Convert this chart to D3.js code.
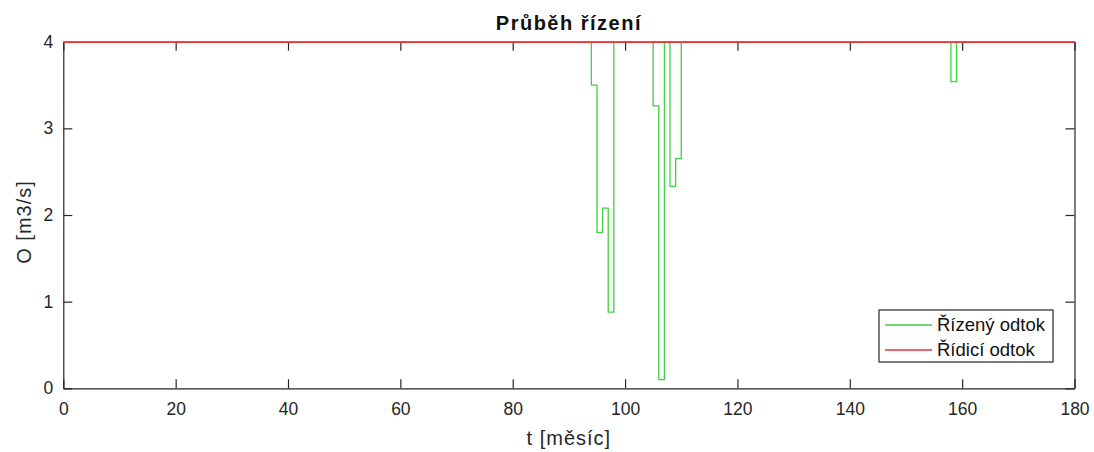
<!DOCTYPE html>
<html lang="cs">
<head>
<meta charset="UTF-8">
<title>Průběh řízení</title>
<script src="https://d3js.org/d3.v7.min.js"></script>
<style>
  html, body { margin: 0; padding: 0; background: #fff; }
  text { font-family: "Liberation Sans", Arial, sans-serif; }
</style>
</head>
<body>
<div id="chart"></div>
<script>
// data (stairs: value holds from month until next month)
const controlledMonths = [0, 94, 95, 96, 97, 98, 105, 106, 107, 108, 109, 110, 158, 159, 180];
const controlledValues = [4, 3.5, 1.8, 2.08, 0.88, 4, 3.26, 0.1, 4, 2.33, 2.65, 4, 3.54, 4, 4];
const controlMonths = [0, 180];
const controlValues = [4, 4];
const xTicks = [0, 20, 40, 60, 80, 100, 120, 140, 160, 180];
const yTicks = [0, 1, 2, 3, 4];
const seriesNames = ["Řízený odtok", "Řídicí odtok"];

const W = 1094, H = 452;
const margin = { top: 41.7, right: 19.5, bottom: 63.7, left: 63.3 };
const width = W - margin.left - margin.right,
      height = H - margin.top - margin.bottom;
const axisColor = "#262626";
const green = "#3fd13f", red = "#e8343e";

const svg = d3.select("#chart").append("svg")
    .attr("width", W).attr("height", H);

const g = svg.append("g")
    .attr("transform", `translate(${margin.left},${margin.top})`);

const x = d3.scaleLinear().domain([0, 180]).range([0, width]);
const y = d3.scaleLinear().domain([0, 4]).range([height, 0]);

// axes (ticks inward, mirrored on top/right)
const tickLen = 9;
const xAxisBottom = g.append("g").attr("transform", `translate(0,${height})`)
    .call(d3.axisBottom(x).tickValues(xTicks).tickSizeInner(-tickLen).tickSizeOuter(0).tickPadding(14));
const yAxisLeft = g.append("g")
    .call(d3.axisLeft(y).tickValues(yTicks).tickFormat(d3.format("d")).tickSizeInner(-tickLen).tickSizeOuter(0).tickPadding(10));
const xAxisTop = g.append("g")
    .call(d3.axisTop(x).tickValues(xTicks).tickSizeInner(-tickLen).tickSizeOuter(0).tickFormat(""));
const yAxisRight = g.append("g").attr("transform", `translate(${width},0)`)
    .call(d3.axisRight(y).tickValues(yTicks).tickSizeInner(-tickLen).tickSizeOuter(0).tickFormat(""));

[xAxisBottom, yAxisLeft, xAxisTop, yAxisRight].forEach(a => {
  a.select(".domain").attr("stroke", axisColor).attr("stroke-width", 1.2);
  a.selectAll(".tick line").attr("stroke", axisColor).attr("stroke-width", 1.2);
  a.selectAll(".tick text").attr("fill", axisColor).style("font-size", "17.5px");
});
xAxisBottom.selectAll(".tick text").attr("dy", "0.71em");

// lines
const line = d3.line().curve(d3.curveStepAfter)
    .x(d => x(d[0])).y(d => y(d[1]));

g.append("path")
    .datum(d3.zip(controlledMonths, controlledValues))
    .attr("fill", "none").attr("stroke", green).attr("stroke-width", 1.3)
    .attr("d", line);

g.append("path")
    .datum(d3.zip(controlMonths, controlValues))
    .attr("fill", "none").attr("stroke", red).attr("stroke-width", 1.6)
    .attr("transform", "translate(0,0.5)")
    .attr("d", line);

// title and labels
svg.append("text")
    .attr("x", margin.left + width / 2).attr("y", 29.5)
    .attr("text-anchor", "middle")
    .style("font-size", "20px").style("font-weight", "bold")
    .style("letter-spacing", "1.5px")
    .attr("fill", "#111")
    .text("Průběh řízení");

svg.append("text")
    .attr("x", margin.left + width / 2).attr("y", 445)
    .attr("text-anchor", "middle")
    .style("font-size", "20px").style("letter-spacing", "1px")
    .attr("fill", axisColor)
    .text("t [měsíc]");

svg.append("text")
    .attr("transform", `translate(31,222) rotate(-90)`)
    .attr("text-anchor", "middle")
    .style("font-size", "20px").style("letter-spacing", "1px")
    .attr("fill", axisColor)
    .text("O [m3/s]");

// legend
const legend = svg.append("g").attr("transform", "translate(879,310)");
legend.append("rect")
    .attr("width", 174).attr("height", 52)
    .attr("fill", "#fff").attr("stroke", axisColor).attr("stroke-width", 1.2);

const items = legend.selectAll("g.item")
    .data(seriesNames)
    .join("g")
    .attr("class", "item")
    .attr("transform", (d, i) => `translate(0,${15 + i * 25})`);

items.append("line")
    .attr("x1", 6).attr("x2", 53)
    .attr("stroke", (d, i) => i === 0 ? green : red)
    .attr("stroke-width", 1.3);

items.append("text")
    .attr("x", 58).attr("dy", "0.35em")
    .style("font-size", "18.5px")
    .attr("fill", "#111")
    .text(d => d);
</script>
</body>
</html>
